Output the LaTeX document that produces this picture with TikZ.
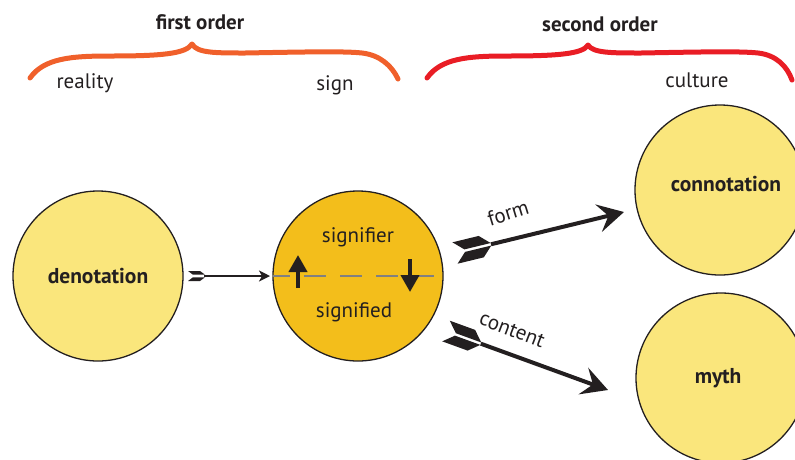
\documentclass[tikz,border=0pt]{standalone}
\usepackage{fontspec}
\setmainfont{PT Sans}
\usetikzlibrary{arrows.meta,decorations.markings,calc}
\definecolor{txt}{HTML}{231F20}
\definecolor{paleyel}{HTML}{FAE67C}
\definecolor{goldyel}{HTML}{F3BE1B}
\definecolor{braceor}{HTML}{F0602B}
\definecolor{bracered}{HTML}{E91D25}
\tikzset{
  circ/.style={circle, draw=txt, line width=1.3pt, minimum size=170pt, inner sep=0pt, fill=paleyel,
    font=\fontsize{21.5}{24}\selectfont\bfseries, text=txt},
  boldtxt/.style={font=\fontsize{21.5}{24}\selectfont\bfseries, text=txt, inner sep=0pt},
  lbl/.style={font=\fontsize{21}{24}\selectfont, text=txt, inner sep=0pt},
  hdr/.style={font=\fontsize{21}{24}\selectfont\bfseries, text=txt, inner sep=0pt},
  bracestyle/.style={line width=5pt, line cap=round, line join=round},
  fletch/.style n args={3}{postaction={decorate}, decoration={markings,
    mark=at position 0 with {
      \fill[txt] (0,-#2) -- ({#1-#3},-#2) -- (#1,-1.3) -- (#3,-1.3) -- cycle;
      \fill[txt] (0,#2) -- ({#1-#3},#2) -- (#1,1.3) -- (#3,1.3) -- cycle;}}},
  bigshaft/.style={draw=txt, line width=4pt, -{Stealth[length=26pt, width=28pt, inset=10pt]}},
  smallshaft/.style={draw=txt, line width=1.6pt, -{Stealth[length=11pt, width=11pt, inset=3pt]}},
  updown/.style={draw=txt, line width=4pt, -{Triangle[length=17pt, width=18pt]}},
}
\begin{document}
\begin{tikzpicture}[x=1pt,y=-1pt]
\useasboundingbox (0,0) rectangle (795,459);

% braces
\draw[bracestyle, draw=braceor] (30,78) .. controls (44,58) and (72,56) .. (110,56)
  .. controls (160,56) and (186,54) .. (192,44)
  .. controls (197,53) and (215,53) .. (245,53)
  .. controls (300,52) and (345,51) .. (362,53)
  .. controls (380,55) and (392,66) .. (398,79);
\draw[bracestyle, draw=bracered] (427,78) .. controls (441,58) and (469,56) .. (507,56)
  .. controls (557,56) and (583,54) .. (588,45)
  .. controls (593,53) and (611,53) .. (641,53)
  .. controls (696,52) and (741,51) .. (758,53)
  .. controls (776,55) and (787,66) .. (792,80);

\node[hdr] (h1) at (200,22) {first order};
\node[hdr] (h2) at (600,24) {second order};
\node[lbl] (reality) at (85,83) {reality};
\node[lbl] (sign) at (335,85) {sign};
\node[lbl] (culture) at (697,80) {culture};

% circles
\node[circ] (den) at (98,276) {denotation};
\node[circ, fill=goldyel] (sg) at (358,276) {};
\node[circ] (con) at (720,190) {};
\node[circ] (myth) at (721,378) {};
\node[boldtxt] (contxt) at (726,184) {connotation};
\node[boldtxt] (mythtxt) at (718,378) {myth};

% dashed divider
\draw[draw=gray, line width=1.3pt, dash pattern=on 22pt off 14pt, dash phase=4pt] (sg.west) -- (sg.east);
\node[lbl] (sfr) at (358,237) {signifier};
\node[lbl] (sfd) at (354,312) {signified};

% up / down arrows
\coordinate (u1) at (298,288);
\coordinate (u2) at (298,255);
\coordinate (d1) at (410,259);
\coordinate (d2) at (410,292);
\draw[updown] (u1) -- (u2);
\draw[updown] (d1) -- (d2);

% denotation -> sign
\coordinate (t0) at (188,276);
\coordinate (p0) at (270,276);
\path[fletch={17}{5}{5}] (t0) -- (p0);
\draw[smallshaft] ($(t0)!16pt!(p0)$) -- (p0);

% form arrow
\coordinate (t1) at (455,253);
\coordinate (p1) at (624,212);
\path[fletch={37}{11}{10}] (t1) -- (p1);
\draw[bigshaft] ($(t1)!37pt!(p1)$) -- (p1);
\node[lbl, rotate=17] (form) at (508,213) {form};

% content arrow
\coordinate (t2) at (446,331);
\coordinate (p2) at (608,390);
\path[fletch={37}{11}{10}] (t2) -- (p2);
\draw[bigshaft] ($(t2)!37pt!(p2)$) -- (p2);
\node[lbl, rotate=-21] (content) at (512,330) {content};
\end{tikzpicture}
\end{document}
